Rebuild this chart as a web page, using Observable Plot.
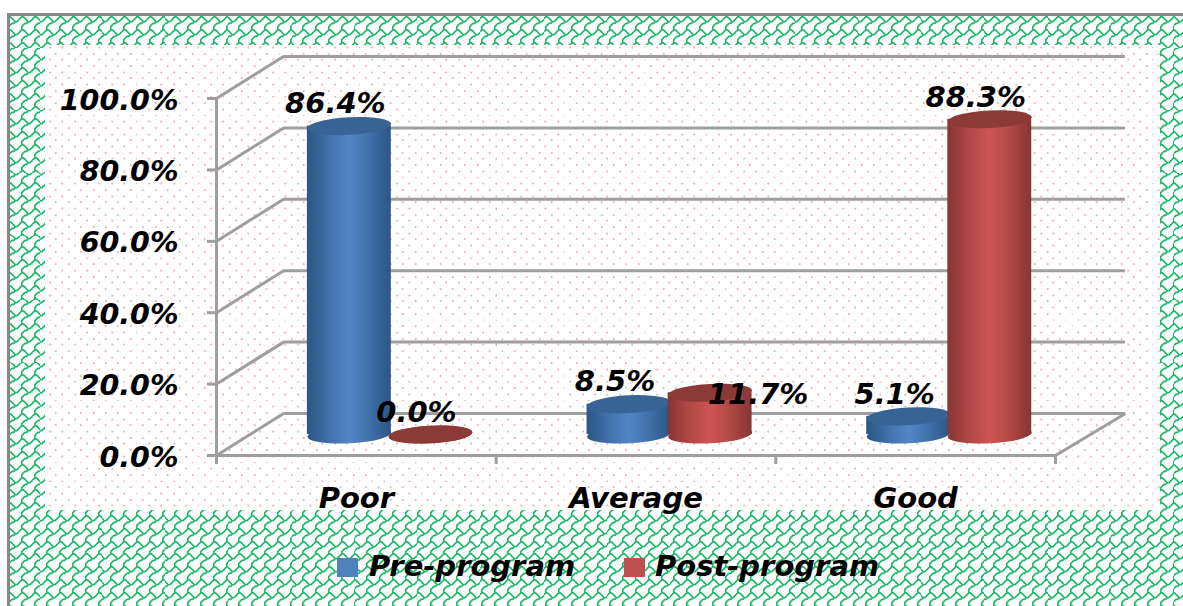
<!DOCTYPE html>
<html>
<head>
<meta charset="utf-8">
<script src="https://cdn.jsdelivr.net/npm/d3@7"></script>
<script src="https://cdn.jsdelivr.net/npm/@observablehq/plot@0.6"></script>
<style>
  html, body { margin: 0; padding: 0; background: #fff; width: 1183px; height: 606px; overflow: hidden; }
  #frame { position: absolute; left: 7px; top: 13px; width: 1176px; height: 593px; box-sizing: border-box;
           border-left: 3px solid #888; border-top: 3px solid #888; background-position: -2px 0; }
  #panel { position: absolute; left: 45px; top: 45px; width: 1115px; height: 465px; background-color: #fff; }
  #chart { position: absolute; left: 0; top: 0; }
  #legend { position: absolute; left: 0; top: 546px; width: 1183px; height: 40px; display: flex; align-items: center;
            font: italic bold 29px "DejaVu Sans", sans-serif; color: #000; }
  .swatch { position: absolute; top: 12px; width: 21px; height: 19px; }
  .entry { position: absolute; top: 0; line-height: 40px; white-space: nowrap; }
</style>
</head>
<body>
<div id="frame"></div>
<div id="panel"></div>
<div id="chart"></div>
<div id="legend"></div>
<script>
const categories = ["Poor", "Average", "Good"];
const preProgram = [86.4, 8.5, 5.1];
const postProgram = [0.0, 11.7, 88.3];
const yTicks = [0, 20, 40, 60, 80, 100];
const seriesNames = ["Pre-program", "Post-program"];
const swatchColors = ["#4f81bd", "#c0504d"];

// oblique-projection depth of the 3D box, in data units
const depthX = 0.24, depthY = 11.76, floorEnd = 3 + 0.25;
const halfBar = 0.15, barShift = 0.145;
const pct = v => v.toFixed(1) + "%";

const rows = (vals, sign) => categories.map((c, i) => {
  const x = i + 0.5 + depthX / 2 + sign * barShift;
  const base = depthY / 2;
  return { c, v: vals[i], x, x1: x - halfBar, x2: x + halfBar, base, top: base + vals[i] };
});
const pre = rows(preProgram, -1), post = rows(postProgram, 1);

const asDisc = (index, scales, values, dims, ctx, next) => {
  const g = next(index, scales, values, dims, ctx);
  d3.select(g).selectAll("circle").each(function () {
    const s = d3.select(this), cx = +s.attr("cx"), cy = +s.attr("cy");
    s.attr("cx", 0).attr("cy", 0).attr("transform", `translate(${cx},${cy}) rotate(-3) scale(1,0.21)`);
  });
  return g;
};

function cylinder(data, body, cap) {
  return [
    Plot.dot(data, { x: "x", y: "base", r: 42, fill: body, render: asDisc }),
    Plot.rect(data, { x1: "x1", x2: "x2", y1: "base", y2: "top", fill: body }),
    Plot.dot(data, { x: "x", y: "top", r: 42, fill: cap, render: asDisc })
  ];
}

function gradient(id, stops) {
  const svgNS = "http://www.w3.org/2000/svg";
  const g = document.createElementNS(svgNS, "linearGradient");
  g.setAttribute("id", id);
  stops.forEach((c, i) => {
    const s = document.createElementNS(svgNS, "stop");
    s.setAttribute("offset", i / (stops.length - 1));
    s.setAttribute("stop-color", c);
    g.appendChild(s);
  });
  return g;
}
const defsMark = () => {
  const d = document.createElementNS("http://www.w3.org/2000/svg", "defs");
  d.appendChild(gradient("blueBody", ["#2b5585", "#4070a8", "#5286c6", "#4070a8", "#2b5585"]));
  d.appendChild(gradient("redBody", ["#853534", "#b04846", "#cd5552", "#b04846", "#853534"]));
  return d;
};

const labels = [...pre, ...post];
const axisColor = "#9e9e9e";

const plot = Plot.plot({
  width: 1183, height: 530,
  marginLeft: 216, marginRight: 128, marginTop: 98, marginBottom: 75,
  x: { domain: [0, 3] },
  y: { domain: [0, 100] },
  style: { background: "transparent", fontFamily: "'DejaVu Sans', sans-serif", fontSize: "29px",
           fontWeight: "bold", fontStyle: "italic", overflow: "visible", color: "#000" },
  marks: [
    defsMark,
    // back wall gridlines and side wall slants
    Plot.ruleY(yTicks, { y: d => d + depthY, x1: depthX, x2: floorEnd, stroke: axisColor, strokeWidth: 3 }),
    Plot.link(yTicks, { x1: 0, y1: d => d, x2: depthX, y2: d => d + depthY, stroke: axisColor, strokeWidth: 3 }),
    Plot.link([0], { x1: 3, y1: 0, x2: floorEnd, y2: depthY, stroke: axisColor, strokeWidth: 3 }),
    // front axes
    Plot.ruleX([0], { y1: 0, y2: 100, stroke: axisColor, strokeWidth: 3 }),
    Plot.ruleY([0], { x1: 0, x2: 3, stroke: axisColor, strokeWidth: 3 }),
    Plot.axisY({ ticks: yTicks, tickSize: 9, tickFormat: () => "", label: null, stroke: axisColor, strokeWidth: 3 }),
    Plot.axisY({ ticks: yTicks, tickSize: 0, tickPadding: 38, tickFormat: pct, label: null, color: "#000", fontSize: 28.5, dy: 2 }),
    Plot.axisX({ ticks: [0, 1, 2, 3], tickSize: 9, tickFormat: () => "", label: null, stroke: axisColor, strokeWidth: 3 }),
    Plot.axisX({ ticks: [0.5, 1.5, 2.5], tickSize: 0, tickPadding: 32, label: null,
                 tickFormat: d => categories[Math.floor(d)] }),
    // cylinders
    ...cylinder(pre, "url(#blueBody)", "#376494"),
    ...cylinder(post, "url(#redBody)", "#8c3a38"),
    // data labels
    Plot.text(labels.filter(d => d.v !== 11.7), { x: "x", y: "top", text: d => pct(d.v), dx: -14, dy: -22 }),
    Plot.text(labels.filter(d => d.v === 11.7), { x: "x", y: "top", text: d => pct(d.v), dx: 48, dy: 2 })
  ]
});
document.getElementById("chart").appendChild(plot);

// backgrounds: Shingle and dotted hatch fills
const shingle = `<svg xmlns='http://www.w3.org/2000/svg' width='12.8' height='12.8' viewBox='0 0 8 8'><path fill='none' stroke='#1db868' stroke-width='1' stroke-linejoin='round' d='M-.5 1.5L.5 .5L1.5 .5L2.5 1.5L3.5 2.5L4.5 3.5L5.5 3.5L6.5 2.5L7.5 1.5L8.5 .5M4.5 3.5L3.5 4.5L2.5 4.5L1.5 5.5L.5 6.5L.5 8.5M.5 -.5L.5 .5M8.5 .5L9.5 .5'/></svg>`;
const dots = `<svg xmlns='http://www.w3.org/2000/svg' width='12.4' height='12.4'><g fill='#efb0b0'><circle cx='5' cy='2.5' r='1'/><circle cx='11.2' cy='8.7' r='1'/></g></svg>`;
document.getElementById("frame").style.backgroundImage = `url("data:image/svg+xml,${encodeURIComponent(shingle)}")`;
document.getElementById("panel").style.backgroundImage = `url("data:image/svg+xml,${encodeURIComponent(dots)}")`;

// legend
const legend = document.getElementById("legend");
const swatchX = [337, 624], textX = [369, 655];
seriesNames.forEach((name, i) => {
  const s = document.createElement("div");
  s.className = "swatch"; s.style.left = swatchX[i] + "px"; s.style.background = swatchColors[i];
  const t = document.createElement("div");
  t.className = "entry"; t.style.left = textX[i] + "px"; t.textContent = name;
  legend.append(s, t);
});
</script>
</body>
</html>
